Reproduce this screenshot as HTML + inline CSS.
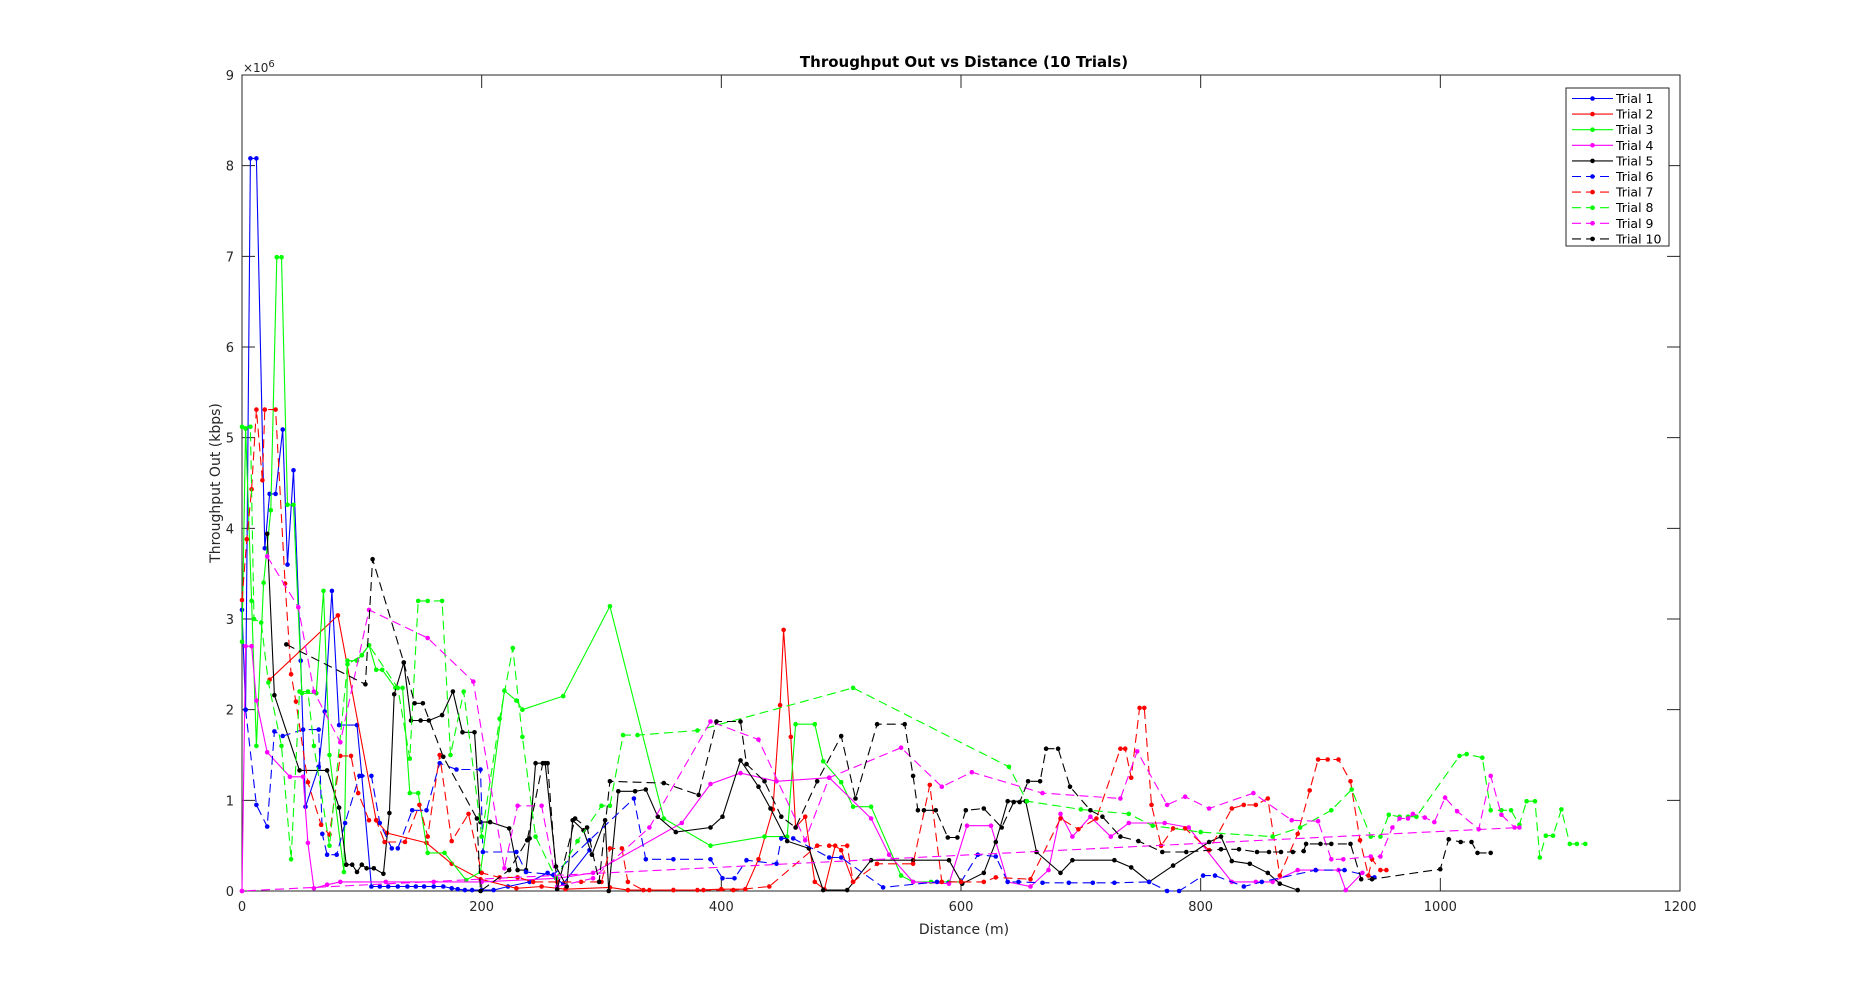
<!DOCTYPE html>
<html><head><meta charset="utf-8"><style>
html,body{margin:0;padding:0;background:#fff;}
svg{display:block;font-family:"DejaVu Sans","Liberation Sans",sans-serif;}
</style></head><body>
<svg id="chart" width="1855" height="1001" viewBox="0 0 1855 1001" xmlns="http://www.w3.org/2000/svg">
<rect x="0" y="0" width="1855" height="1001" fill="#fff"/>
<text x="964" y="67" text-anchor="middle" font-size="15" font-weight="bold" fill="#000">Throughput Out vs Distance (10 Trials)</text>
<text x="964" y="934" text-anchor="middle" font-size="14" fill="#262626">Distance (m)</text>
<text x="0" y="0" transform="translate(220,483) rotate(-90)" text-anchor="middle" font-size="14" fill="#262626">Throughput Out (kbps)</text>
<text x="243" y="72" font-size="12" fill="#262626">×10<tspan dy="-5" font-size="10">6</tspan></text>
<g id="grid"></g>
<g id="series"></g>
<g id="legend"></g>
</svg>
<script>
const xTicks = [0, 200, 400, 600, 800, 1000, 1200];
const yTicks = [0, 1, 2, 3, 4, 5, 6, 7, 8, 9];
const trialNames = ["Trial 1","Trial 2","Trial 3","Trial 4","Trial 5","Trial 6","Trial 7","Trial 8","Trial 9","Trial 10"];
const trialColors = ["#0000ff","#ff0000","#00ff00","#ff00ff","#000000","#0000ff","#ff0000","#00ff00","#ff00ff","#000000"];
const trialDashed = [false,false,false,false,false,true,true,true,true,true];

const trial1 = [[0,3.1],[3,2.0],[7,8.08],[12,8.08],[19,3.78],[23,4.38],[28,4.38],[34,5.09],[38,3.6],[43,4.64],[49,2.54],[53,0.93],[64,1.37],[69,1.98],[75,3.31],[81,1.83],[96,1.83],[100,1.27],[108,0.05],[115,0.05],[122,0.05],[130,0.05],[138,0.05],[145,0.05],[152,0.05],[160,0.05],[168,0.05],[175,0.03],[180,0.02],[186,0.01],[192,0.01],[200,0.01],[210,0.01],[222,0.05],[240,0.1],[255,0.2],[268,0.08],[290,0.45]];
const trial2 = [[23,2.33],[80,3.04],[112,0.78],[121,0.64],[154,0.53],[175,0.3],[199,0.13],[229,0.03],[250,0.05],[270,0.02],[307,0.04],[322,0.01],[340,0.01],[360,0.01],[380,0.01],[400,0.02],[420,0.02],[431,0.35],[443,0.9],[449,2.05],[452,2.88],[458,1.7],[462,0.7],[470,0.82],[478,0.1],[486,0.02],[495,0.5],[500,0.45],[510,0.1]];
const trial3 = [[0,2.75],[3,5.1],[8,3.2],[12,1.6],[18,3.4],[24,4.2],[29,6.99],[33,6.99],[38,4.26],[43,4.26],[50,2.18],[62,2.18],[68,3.31],[73,1.5],[85,0.21],[88,2.54],[96,2.54],[106,2.71],[112,2.44],[117,2.44],[128,2.24],[134,2.24],[140,1.08],[147,1.08],[155,0.42],[169,0.42],[187,0.12],[199,0.21],[219,2.21],[229,2.1],[234,2.0],[268,2.15],[307,3.14],[352,0.8],[391,0.5],[436,0.6],[455,0.6],[462,1.84],[478,1.84],[485,1.43],[500,1.2],[510,0.93],[525,0.93],[550,0.17],[560,0.1],[575,0.1],[590,0.1],[600,0.1]];
const trial4 = [[0,0.0],[3,2.7],[8,2.7],[12,2.1],[21,1.53],[40,1.26],[51,1.26],[55,0.53],[60,0.03],[71,0.07],[82,0.1],[120,0.1],[160,0.1],[200,0.1],[263,0.14],[293,0.2],[367,0.75],[391,1.18],[416,1.3],[446,1.21],[490,1.25],[525,0.8],[540,0.4],[560,0.1],[590,0.08],[605,0.72],[625,0.72],[639,0.1],[658,0.05],[673,0.23],[683,0.85],[693,0.6],[708,0.82],[725,0.6],[740,0.75],[770,0.75],[790,0.7],[826,0.1],[846,0.1],[860,0.1],[881,0.23],[896,0.23],[915,0.23],[921,0.01],[935,0.2]];
const trial5 = [[21,3.94],[27,2.16],[48,1.33],[71,1.33],[81,0.92],[87,0.29],[92,0.29],[96,0.21],[100,0.29],[104,0.25],[110,0.25],[118,0.19],[123,0.86],[127,2.17],[135,2.52],[141,1.88],[149,1.88],[156,1.88],[167,1.94],[176,2.2],[184,1.75],[194,1.75],[199,0.76],[207,0.76],[223,0.69],[230,0.23],[237,0.23],[240,0.58],[245,1.41],[253,1.41],[262,0.27],[271,0.05],[276,0.78],[285,0.67],[292,0.4],[303,0.78],[306,0.0],[314,1.1],[328,1.1],[337,1.12],[347,0.82],[362,0.65],[391,0.7],[401,0.82],[416,1.44],[431,1.15],[441,0.91],[455,0.55],[473,0.47],[485,0.01],[505,0.01],[525,0.34],[560,0.34],[590,0.34],[601,0.08],[619,0.2],[629,0.54],[639,0.99],[654,0.99],[663,0.43],[683,0.2],[693,0.34],[728,0.34],[742,0.26],[757,0.1],[777,0.28],[807,0.54],[817,0.6],[826,0.33],[841,0.3],[856,0.2],[866,0.08],[881,0.01]];
const trial6 = [[3,2.0],[12,0.95],[21,0.71],[27,1.76],[34,1.71],[51,1.78],[64,1.78],[67,0.63],[71,0.4],[79,0.4],[86,0.75],[98,1.27],[108,1.27],[115,0.75],[125,0.47],[130,0.47],[142,0.89],[154,0.89],[165,1.41],[179,1.34],[199,1.34],[201,0.43],[229,0.43],[237,0.21],[260,0.18],[290,0.56],[327,1.02],[337,0.35],[360,0.35],[391,0.35],[401,0.14],[411,0.14],[421,0.34],[446,0.3],[450,0.58],[460,0.58],[490,0.37],[500,0.37],[535,0.04],[580,0.1],[600,0.1],[614,0.4],[629,0.38],[639,0.1],[648,0.1],[668,0.09],[690,0.09],[710,0.09],[728,0.09],[757,0.1],[772,0.0],[782,0.0],[802,0.17],[812,0.17],[836,0.05],[851,0.1],[896,0.23],[920,0.23],[945,0.15]];
const trial7 = [[0,3.21],[4,3.88],[8,4.43],[12,5.31],[17,4.53],[19,5.31],[28,5.31],[36,3.39],[41,2.39],[45,2.09],[55,1.2],[66,0.73],[73,0.62],[82,1.49],[91,1.49],[97,1.08],[106,0.78],[112,0.78],[119,0.54],[136,0.54],[148,0.95],[155,0.6],[165,1.5],[175,0.55],[189,0.85],[200,0.2],[215,0.15],[230,0.15],[243,0.1],[263,0.1],[283,0.1],[300,0.1],[307,0.47],[317,0.47],[322,0.1],[335,0.01],[360,0.01],[385,0.01],[410,0.01],[440,0.05],[480,0.5],[490,0.5],[505,0.5],[510,0.1],[530,0.3],[560,0.3],[574,1.17],[584,0.1],[600,0.1],[619,0.1],[629,0.15],[658,0.13],[683,0.8],[698,0.68],[713,0.8],[733,1.57],[737,1.57],[742,1.25],[749,2.02],[753,2.02],[759,0.95],[767,0.5],[777,0.69],[787,0.69],[807,0.45],[826,0.91],[836,0.95],[846,0.95],[856,1.02],[866,0.17],[881,0.63],[891,1.11],[898,1.45],[906,1.45],[915,1.45],[925,1.21],[933,0.56],[940,0.17],[943,0.35],[950,0.23],[955,0.23]];
const trial8 = [[0,5.12],[7,5.12],[10,3.0],[16,2.96],[22,2.3],[33,1.6],[41,0.35],[48,2.2],[55,2.2],[60,1.6],[73,0.5],[88,2.5],[100,2.6],[106,2.71],[130,2.24],[140,1.46],[147,3.2],[155,3.2],[167,3.2],[174,1.5],[185,2.2],[200,0.6],[215,1.9],[226,2.68],[234,1.7],[245,0.6],[262,0.14],[280,0.55],[300,0.94],[307,0.94],[318,1.72],[330,1.72],[380,1.77],[510,2.24],[640,1.37],[655,0.99],[700,0.9],[740,0.85],[760,0.72],[800,0.65],[860,0.6],[883,0.7],[909,0.89],[926,1.12],[942,0.6],[950,0.6],[957,0.84],[966,0.82],[973,0.82],[980,0.82],[1016,1.49],[1022,1.51],[1035,1.47],[1042,0.89],[1051,0.89],[1059,0.89],[1066,0.73],[1072,0.99],[1079,0.99],[1083,0.37],[1088,0.61],[1094,0.61],[1101,0.9],[1108,0.52],[1114,0.52],[1121,0.52]];
const trial9 = [[21,3.69],[47,3.13],[60,2.2],[82,1.64],[106,3.1],[155,2.79],[193,2.31],[219,0.25],[230,0.94],[250,0.94],[263,0.05],[293,0.14],[340,0.7],[391,1.87],[431,1.67],[470,0.56],[490,1.25],[550,1.58],[584,1.15],[609,1.31],[668,1.08],[733,1.02],[747,1.54],[772,0.95],[787,1.04],[807,0.91],[844,1.08],[876,0.78],[898,0.77],[909,0.35],[919,0.35],[942,0.38],[950,0.38],[960,0.7],[966,0.8],[973,0.8],[977,0.85],[987,0.81],[995,0.76],[1004,1.03],[1014,0.88],[1032,0.68],[1042,1.27],[1051,0.84],[1062,0.7],[1066,0.7],[0,0.0]];
const trial10 = [[37,2.72],[103,2.28],[109,3.66],[135,2.52],[144,2.07],[151,2.07],[168,1.48],[196,0.8],[199,0.0],[223,0.23],[238,0.56],[251,1.41],[255,1.41],[263,0.02],[278,0.8],[288,0.7],[298,0.1],[307,1.21],[352,1.19],[381,1.06],[396,1.87],[416,1.87],[421,1.4],[436,1.21],[450,0.82],[462,0.7],[480,1.21],[500,1.71],[512,1.02],[530,1.84],[553,1.84],[560,1.27],[564,0.89],[569,0.89],[579,0.89],[589,0.59],[597,0.59],[604,0.89],[619,0.91],[634,0.7],[644,0.98],[649,0.98],[656,1.21],[666,1.21],[671,1.57],[681,1.57],[691,1.15],[708,0.89],[718,0.82],[733,0.6],[748,0.55],[768,0.43],[788,0.43],[817,0.46],[832,0.46],[847,0.43],[857,0.43],[867,0.43],[877,0.43],[886,0.44],[888,0.52],[900,0.52],[909,0.52],[925,0.52],[934,0.13],[943,0.13],[1000,0.24],[1007,0.57],[1017,0.54],[1026,0.54],[1031,0.42],[1042,0.42]];
const trials = [trial1,trial2,trial3,trial4,trial5,trial6,trial7,trial8,trial9,trial10];

const NS = "http://www.w3.org/2000/svg";
const L = 242, R = 1680, T = 75, B = 891;
const xMax = 1200, yMax = 9;
function xScale(v){ return L + (v / xMax) * (R - L); }
function yScale(v){ return B - (v / yMax) * (B - T); }

const grid = document.getElementById('grid');
const box = document.createElementNS(NS,'rect');
box.setAttribute('x',L); box.setAttribute('y',T); box.setAttribute('width',R-L); box.setAttribute('height',B-T);
box.setAttribute('fill','none'); box.setAttribute('stroke','#262626'); box.setAttribute('stroke-width','1');


grid.appendChild(box);

xTicks.forEach(function(t){
  const x = xScale(t);
  const tk = document.createElementNS(NS,'path');
  tk.setAttribute('d','M'+x+' '+B+'V'+(B-13)+'M'+x+' '+T+'V'+(T+13));
  tk.setAttribute('stroke','#262626'); tk.setAttribute('stroke-width','1');
  
  
  grid.appendChild(tk);
  const lb = document.createElementNS(NS,'text');
  lb.setAttribute('x',x); lb.setAttribute('y',B+20); lb.setAttribute('text-anchor','middle');
  lb.setAttribute('font-size','13'); lb.setAttribute('fill','#262626');
  lb.textContent = t;
  
  
  grid.appendChild(lb);
});
yTicks.forEach(function(t){
  const y = yScale(t);
  const tk = document.createElementNS(NS,'path');
  tk.setAttribute('d','M'+L+' '+y+'H'+(L+13)+'M'+R+' '+y+'H'+(R-13));
  tk.setAttribute('stroke','#262626'); tk.setAttribute('stroke-width','1');
  
  
  grid.appendChild(tk);
  const lb = document.createElementNS(NS,'text');
  lb.setAttribute('x',L-8); lb.setAttribute('y',y+5); lb.setAttribute('text-anchor','end');
  lb.setAttribute('font-size','13'); lb.setAttribute('fill','#262626');
  lb.textContent = t;
  
  
  grid.appendChild(lb);
});

const sg = document.getElementById('series');
trials.forEach(function(data, i){
  const g = document.createElementNS(NS,'g');
  
  
  const pl = document.createElementNS(NS,'polyline');
  pl.setAttribute('points', data.map(function(p){ return xScale(p[0]).toFixed(1)+','+yScale(p[1]).toFixed(1); }).join(' '));
  pl.setAttribute('fill','none'); pl.setAttribute('stroke',trialColors[i]); pl.setAttribute('stroke-width','1.1');
  if (trialDashed[i]) pl.setAttribute('stroke-dasharray','9,5');
  
  
  g.appendChild(pl);
  data.forEach(function(p){
    const c = document.createElementNS(NS,'circle');
    c.setAttribute('cx',xScale(p[0]).toFixed(1)); c.setAttribute('cy',yScale(p[1]).toFixed(1));
    c.setAttribute('r','2.3'); c.setAttribute('fill',trialColors[i]);
    
    
    g.appendChild(c);
  });
  sg.appendChild(g);
});

const lg = document.getElementById('legend');
const lbx = document.createElementNS(NS,'rect');
lbx.setAttribute('x',1566); lbx.setAttribute('y',88); lbx.setAttribute('width',103); lbx.setAttribute('height',158);
lbx.setAttribute('fill','#fff'); lbx.setAttribute('stroke','#262626'); lbx.setAttribute('stroke-width','1');


lg.appendChild(lbx);
trialNames.forEach(function(name, i){
  const y = 98.5 + i * 15.6;
  const g = document.createElementNS(NS,'g');
  
  
  const ln = document.createElementNS(NS,'line');
  ln.setAttribute('x1',1572); ln.setAttribute('x2',1613); ln.setAttribute('y1',y); ln.setAttribute('y2',y);
  ln.setAttribute('stroke',trialColors[i]); ln.setAttribute('stroke-width','1.1');
  if (trialDashed[i]) ln.setAttribute('stroke-dasharray','9,5');
  
  
  g.appendChild(ln);
  const c = document.createElementNS(NS,'circle');
  c.setAttribute('cx',1592.5); c.setAttribute('cy',y); c.setAttribute('r','2.3'); c.setAttribute('fill',trialColors[i]);
  
  
  g.appendChild(c);
  const t = document.createElementNS(NS,'text');
  t.setAttribute('x',1616); t.setAttribute('y',y+4.5); t.setAttribute('font-size','12.5'); t.setAttribute('fill','#000');
  t.textContent = name;
  
  
  g.appendChild(t);
  lg.appendChild(g);
});
</script>
</body></html>
